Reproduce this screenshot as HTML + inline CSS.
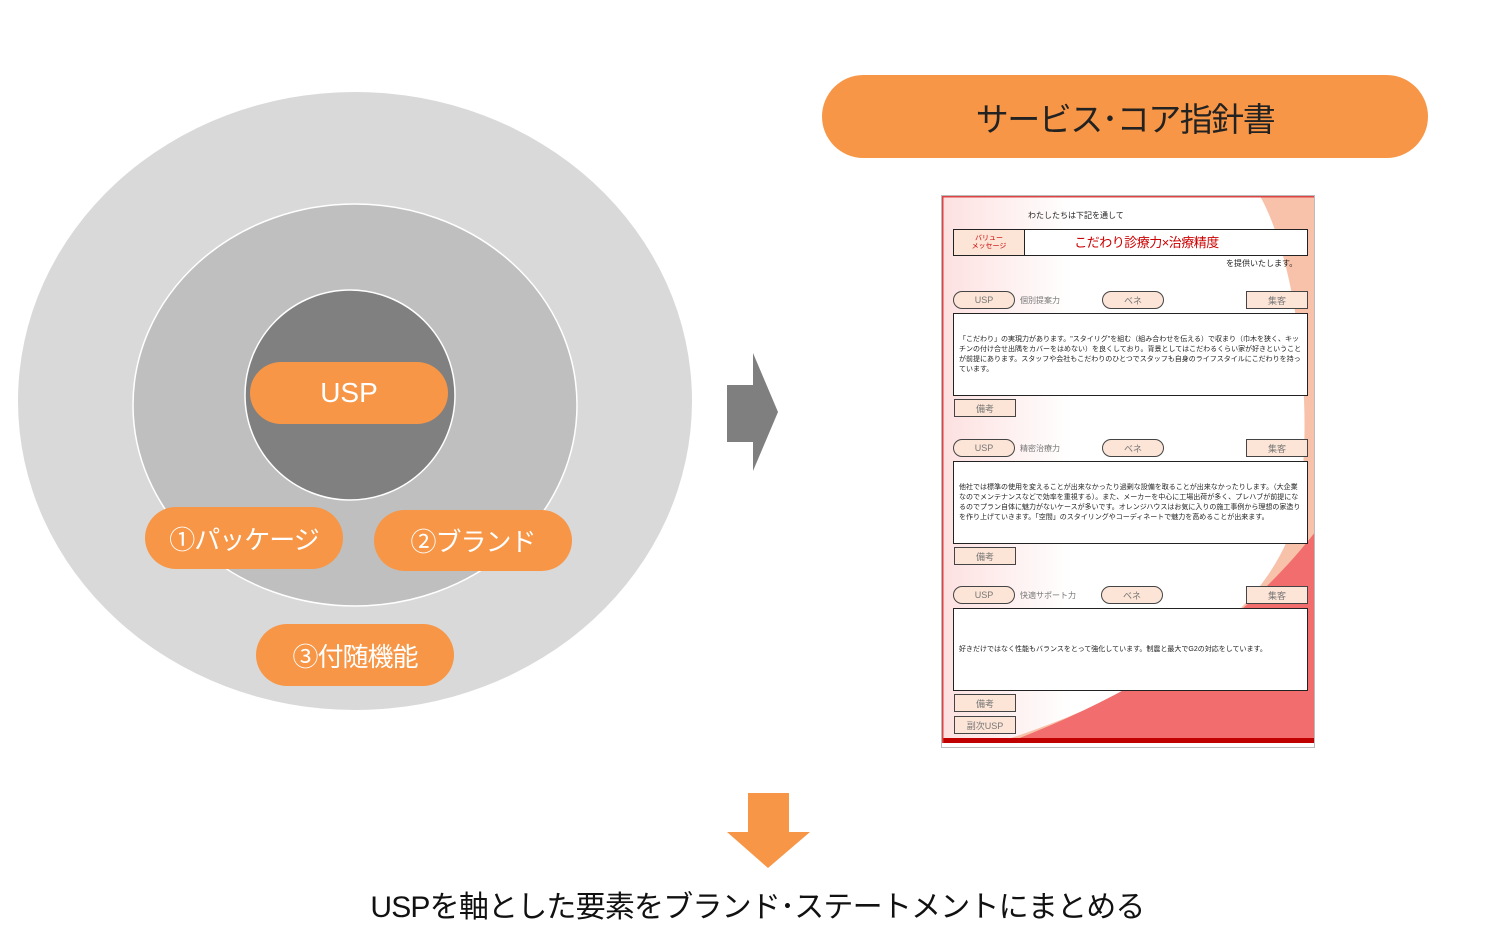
<!DOCTYPE html>
<html><head><meta charset="utf-8"><style>
*{margin:0;padding:0;box-sizing:border-box}
body{width:1501px;height:944px;background:#fff;position:relative;overflow:hidden;font-family:"Liberation Sans","Noto Sans CJK JP",sans-serif}
.a{position:absolute}
.pill{position:absolute;background:#f79646;color:#fff;border-radius:32px;display:flex;align-items:center;justify-content:center;font-size:26px;letter-spacing:-1px}
.doc{position:absolute;left:941px;top:195px;width:374px;height:553px;border:1px solid #bbb;background:linear-gradient(to right,#fde0e0 0%,#fff 35%);overflow:hidden}
.d{position:absolute;font-size:8px;color:#222;white-space:nowrap}
.up{position:absolute;height:18px;width:62px;border:1px solid #444;border-radius:9px;background:#fce4d6;color:#777;font-size:9px;display:flex;align-items:center;justify-content:center}
.bx{position:absolute;height:18px;width:62px;border:1px solid #444;background:#fce4d6;color:#777;font-size:9px;display:flex;align-items:center;justify-content:center}
.tb{position:absolute;left:11px;width:355px;height:83px;border:1px solid #222;background:#fff;font-size:7px;line-height:10px;padding:0 5px;display:flex;align-items:center;color:#222}
</style></head><body>
<svg class="a" style="left:0;top:0" width="800" height="720">
<ellipse cx="355" cy="401" rx="337" ry="309" fill="#d9d9d9"/>
<ellipse cx="355" cy="405" rx="222" ry="201" fill="#bfbfbf" stroke="#fff" stroke-width="1.5"/>
<circle cx="350" cy="395" r="105" fill="#808080" stroke="#fff" stroke-width="1.5"/>
<polygon points="727,385 753,385 753,353 778,412 753,471 753,442 727,442" fill="#7f7f7f"/>
</svg>
<div class="pill" style="left:250px;top:362px;width:198px;height:62px;font-size:28px;letter-spacing:0">USP</div>
<div class="pill" style="left:145px;top:507px;width:198px;height:62px">①パッケージ</div>
<div class="pill" style="left:374px;top:510px;width:198px;height:61px">②ブランド</div>
<div class="pill" style="left:256px;top:624px;width:198px;height:62px">③付随機能</div>
<div class="pill" style="left:822px;top:75px;width:606px;height:83px;border-radius:42px;color:#222;font-size:33px;letter-spacing:-1.5px">サービス･コア指針書</div>
<svg class="a" style="left:720px;top:790px" width="100" height="82"><polygon points="28,3 69,3 69,42 90,42 48,78 7,42 28,42" fill="#f79646"/></svg>
<div class="a" style="left:0;width:1501px;top:882px;text-align:center;font-size:30px;letter-spacing:-0.8px;color:#111;padding-left:14px">USPを軸とした要素をブランド･ステートメントにまとめる</div>

<div class="doc">
<svg class="a" style="left:0;top:0" width="374" height="553">
<path d="M318,0 L374,0 L374,545 L60,545 C200,500 340,420 358,300 C372,200 352,60 318,0 Z" fill="#f8c1aa"/>
<path d="M374,335 C300,430 200,495 70,545 L374,545 Z" fill="#f26d6d"/>
<rect x="0" y="542" width="374" height="5" fill="#c00000"/>
<rect x="0" y="547" width="374" height="6" fill="#fff"/>
<rect x="0" y="0" width="374" height="1.5" fill="#d44"/>
<rect x="0" y="0" width="1.5" height="547" fill="#d44"/>
<rect x="372" y="0" width="1.5" height="547" fill="#d44"/>
</svg>
<div class="d" style="left:86px;top:14px">わたしたちは下記を通して</div>
<div class="a" style="left:11px;top:33px;width:355px;height:27px;border:1px solid #222;background:#fff"></div>
<div class="a" style="left:11px;top:33px;width:72px;height:27px;border:1px solid #222;background:#fce4d6;color:#c00;font-size:7px;line-height:8px;text-align:center;padding-top:5px">バリュー<br>メッセージ</div>
<div class="a" style="left:83px;top:33px;width:283px;height:27px;color:#c00;font-size:13px;line-height:27px;text-align:center;padding-right:40px;letter-spacing:-0.5px">こだわり診療力×治療精度</div>
<div class="d" style="left:284px;top:62px">を提供いたします。</div>

<div class="up" style="left:11px;top:95px">USP</div><div class="d" style="left:78px;top:99px;color:#777">個別提案力</div>
<div class="up" style="left:160px;top:95px">ベネ</div><div class="bx" style="left:304px;top:95px">集客</div>
<div class="tb" style="top:117px">「こだわり」の実現力があります。"スタイリグ"を組む（組み合わせを伝える）で収まり（巾木を狭く、キッチンの付け合せ出隅をカバーをはめない）を良くしており。背景としてはこだわるくらい家が好きということが前提にあります。スタッフや会社もこだわりのひとつでスタッフも自身のライフスタイルにこだわりを持っています。</div>
<div class="bx" style="left:12px;top:203px">備考</div>

<div class="up" style="left:11px;top:243px">USP</div><div class="d" style="left:78px;top:247px;color:#777">精密治療力</div>
<div class="up" style="left:160px;top:243px">ベネ</div><div class="bx" style="left:304px;top:243px">集客</div>
<div class="tb" style="top:265px">他社では標準の使用を変えることが出来なかったり過剰な設備を取ることが出来なかったりします。（大企業なのでメンテナンスなどで効率を重視する）。また、メーカーを中心に工場出荷が多く、プレハブが前提になるのでプラン自体に魅力がないケースが多いです。オレンジハウスはお気に入りの施工事例から理想の家造りを作り上げていきます。「空間」のスタイリングやコーディネートで魅力を高めることが出来ます。</div>
<div class="bx" style="left:12px;top:351px">備考</div>

<div class="up" style="left:11px;top:390px">USP</div><div class="d" style="left:78px;top:394px;color:#777">快適サポート力</div>
<div class="up" style="left:159px;top:390px">ベネ</div><div class="bx" style="left:304px;top:390px">集客</div>
<div class="tb" style="top:412px">好きだけではなく性能もバランスをとって強化しています。制震と最大でG2の対応をしています。</div>
<div class="bx" style="left:12px;top:498px">備考</div>
<div class="bx" style="left:12px;top:520px">副次USP</div>
</div>
</body></html>
